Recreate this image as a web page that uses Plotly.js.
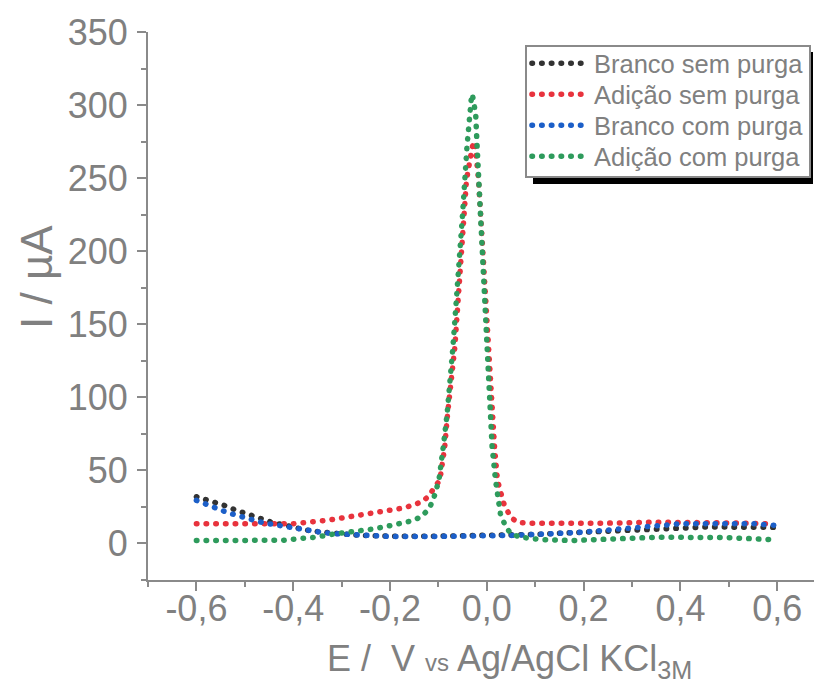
<!DOCTYPE html>
<html>
<head>
<meta charset="utf-8">
<script src="https://cdn.plot.ly/plotly-3.0.1.min.js"></script>
<style>html,body{margin:0;padding:0;background:#fff;}#chart{width:814px;height:684px;}</style>
</head>
<body>
<div id="chart"></div>
<script>
// ---- data ----
const seriesNames = ["Branco sem purga", "Adição sem purga", "Branco com purga", "Adição com purga"];
const seriesColors = ["#333333", "#e8333d", "#1c5fc8", "#2e9b5c"];

const E_grid = [-0.6,-0.58,-0.56,-0.54,-0.52,-0.50,-0.48,-0.46,-0.44,-0.42,-0.40,-0.38,-0.36,-0.34,-0.32,-0.30,-0.28,-0.26,-0.24,-0.20,-0.10,0.0,0.05,0.10,0.15,0.20,0.25,0.30,0.35,0.40,0.45,0.50,0.55,0.60];
const I_brancoSem = [32,30,28,25.8,23,20.5,18,16.4,14,12.8,11,9.6,8.4,7.6,6.9,6.4,6,5.6,5.2,5,5,5.2,5.5,6.2,7,7.8,8.6,9.4,10.3,11,11.2,11.2,11.2,11];
const I_brancoCom = [29.5,26.6,23.9,21.7,19.6,17.3,15.8,14,12.8,11.6,10.5,9.4,8.2,7.5,6.8,6.4,5.9,5.5,5,4.8,4.8,4.8,5.5,6.2,6.8,7.8,9.2,10.8,12.5,13.5,13.5,13.5,13.5,12.3];

const E_adicaoSem = [-0.6,-0.5,-0.4,-0.33,-0.27,-0.21,-0.17,-0.134,-0.119,-0.108,-0.097,-0.087,-0.081,-0.066,-0.056,-0.048,-0.042,-0.030,-0.025,-0.017,-0.013,-0.004,0.003,0.011,0.016,0.022,0.035,0.049,0.063,0.08,0.15,0.25,0.35,0.45,0.55,0.59];
const I_adicaoSem = [13.5,13.5,13.5,15.8,18.7,21.9,24.4,28.5,32.6,38.6,43.2,66,88.8,134.5,180,225.8,248.6,271.4,275,248.6,225.8,180,134.5,88.8,66,43.2,27.4,18,14.6,13.9,13.6,13.9,14.6,14.6,13.8,13.3];

const E_adicaoCom = [-0.6,-0.5,-0.42,-0.374,-0.354,-0.313,-0.272,-0.232,-0.191,-0.151,-0.134,-0.119,-0.110,-0.099,-0.090,-0.082,-0.070,-0.059,-0.050,-0.041,-0.036,-0.0325,-0.030,-0.026,-0.023,-0.020,-0.013,-0.008,-0.001,0.006,0.011,0.018,0.028,0.038,0.049,0.069,0.111,0.173,0.255,0.359,0.496,0.586];
const I_adicaoCom = [2,2,2.2,3.7,4.3,6.6,8.2,10,12.8,15.8,18.7,24,30.6,43.2,66,88.8,134.5,180,225.8,271.4,294,303,307.5,300.8,294,271.4,225.8,180,134.5,88.8,66,43.2,20.5,12.3,6.8,4.3,2.7,2,2.7,4.3,4,2.7];

const xTickVals = [-0.6,-0.4,-0.2,0.0,0.2,0.4,0.6];
const xTickText = ["-0,6","-0,4","-0,2","0,0","0,2","0,4","0,6"];
const yTickVals = [0,50,100,150,200,250,300,350];

// ---- build traces ----
const xs = [E_grid, E_adicaoSem, E_grid, E_adicaoCom];
const ys = [I_brancoSem, I_adicaoSem, I_brancoCom, I_adicaoCom];
const traces = seriesNames.map((n, i) => ({
  type: "scatter", mode: "lines", name: n, x: xs[i], y: ys[i],
  line: {color: seriesColors[i], width: 5.5, dash: "0.5px,9.2px"},
  hoverinfo: "skip"
}));

const gray = "#808080";
const axisGray = "#8a8a8a";
const font = "Liberation Sans, Arial, sans-serif";

const layout = {
  width: 814, height: 684,
  margin: {l: 148, r: 0, t: 32, b: 104},
  paper_bgcolor: "#fff", plot_bgcolor: "#fff",
  font: {family: font, color: gray},
  showlegend: true,
  legend: {
    x: 0.566, y: 0.976, xanchor: "left", yanchor: "top",
    bgcolor: "#ffffff", bordercolor: "#8a8a8a", borderwidth: 2,
    font: {family: font, size: 25.5, color: gray},
    itemwidth: 57, tracegroupgap: 0
  },
  xaxis: {
    range: [-0.7, 0.676], showgrid: false, zeroline: false,
    showline: true, linecolor: axisGray, linewidth: 2,
    tickmode: "array", tickvals: xTickVals, ticktext: xTickText,
    ticks: "outside", ticklen: 9, tickwidth: 2, tickcolor: axisGray,
    tickfont: {family: font, size: 36, color: gray},
    minor: {tick0: 0, dtick: 0.1, ticks: "outside", ticklen: 5, tickwidth: 2, tickcolor: axisGray}
  },
  yaxis: {
    range: [-25, 350], showgrid: false, zeroline: false,
    showline: true, linecolor: axisGray, linewidth: 2,
    tickmode: "array", tickvals: yTickVals,
    ticks: "outside", ticklen: 9, tickwidth: 2, tickcolor: axisGray,
    tickfont: {family: font, size: 36, color: gray},
    ticklabelstandoff: 2,
    minor: {tick0: 0, dtick: 25, ticks: "outside", ticklen: 5, tickwidth: 2, tickcolor: axisGray}
  },
  shapes: [
    {type: "rect", xref: "paper", yref: "paper", layer: "above",
     x0: (533-148)/666, x1: (813-148)/666, y0: (580-184)/548, y1: (580-52)/548,
     fillcolor: "#000", line: {width: 0}}
  ],
  annotations: [
    {xref: "paper", yref: "paper", x: (509-148)/666, y: -(661-580)/548, xanchor: "center", yanchor: "middle",
     showarrow: false, font: {family: font, size: 36, color: gray},
     text: "E /  V <span style=\"font-size:24px\">vs</span> Ag/AgCl KCl<sub>3M</sub>"},
    {xref: "paper", yref: "paper", x: -(148-36)/666, y: (580-277)/548, xanchor: "center", yanchor: "middle",
     textangle: -90, showarrow: false, font: {family: font, size: 44, color: gray},
     text: "I / µA"}
  ]
};

function parseT(el) {
  const m = /translate\(\s*([-\d.e]+)[ ,]+([-\d.e]+)\s*\)/.exec(el.getAttribute("transform") || "");
  return m ? [parseFloat(m[1]), parseFloat(m[2])] : [0, 0];
}

Plotly.newPlot("chart", traces, layout, {displayModeBar: false, staticPlot: true}).then(() => {
  // round dots for the dotted lines
  document.querySelectorAll("#chart path.js-line, #chart .legendlines path").forEach(p => {
    p.style.strokeLinecap = "round";
  });
  // move x tick labels closer to the axis
  document.querySelectorAll("#chart .xtick text").forEach(t => {
    const [tx, ty] = parseT(t);
    t.setAttribute("transform", "translate(" + tx + "," + (ty - 13) + ")");
  });
  // tighten legend row spacing (reference rows are 31px apart)
  const leg = document.querySelector("#chart .legend");
  if (leg) {
    const items = Array.from(leg.querySelectorAll(".traces"));
    if (items.length > 1) {
      const pos = items.map(parseT);
      const orig = pos[1][1] - pos[0][1];
      const step = 31, trim = 7;
      items.forEach((it, i) => {
        it.setAttribute("transform", "translate(" + pos[i][0] + "," + (pos[0][1] - trim + i * step) + ")");
      });
      const shrink = (items.length - 1) * (orig - step) + 2 * trim - 3;
      leg.querySelectorAll("rect.bg").forEach(r => {
        const h = parseFloat(r.getAttribute("height"));
        r.setAttribute("height", h - shrink);
      });
      document.querySelectorAll("#chart clipPath[id^='legend'] rect").forEach(r => {
        const h = parseFloat(r.getAttribute("height"));
        if (!isNaN(h)) r.setAttribute("height", h - shrink);
      });
    }
  }
});
</script>
</body>
</html>
